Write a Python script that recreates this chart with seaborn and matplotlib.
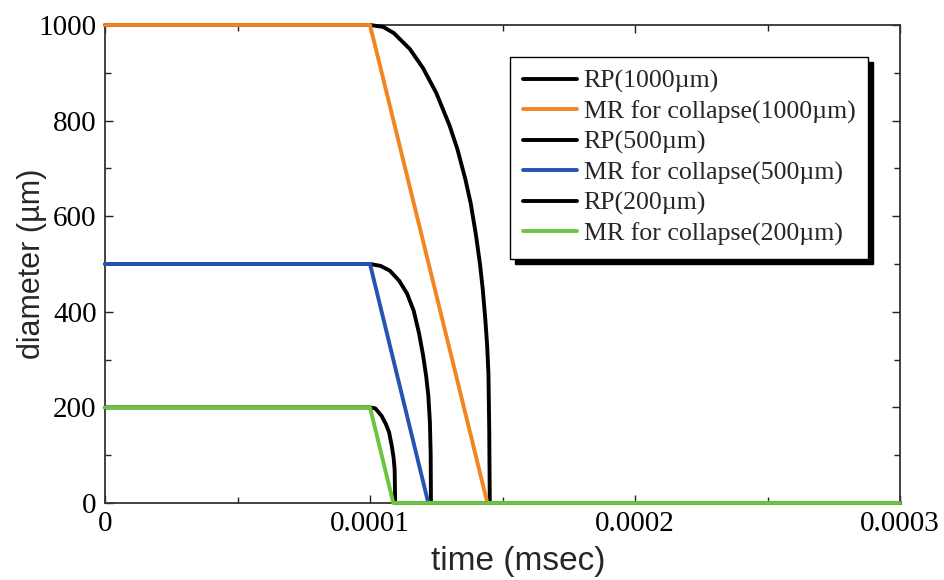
import matplotlib
matplotlib.use("Agg")
import matplotlib.pyplot as plt
from matplotlib.ticker import MultipleLocator
import seaborn as sns
import pandas as pd

# ---- data (time in msec, diameter in µm) ----
rp1000_t = [0.0, 0.0001000, 0.0001050, 0.0001090, 0.0001150, 0.0001200, 0.0001250,
            0.0001300, 0.0001330, 0.0001360, 0.0001380, 0.0001400, 0.0001415,
            0.0001425, 0.0001435, 0.0001442, 0.0001447, 0.0001450, 0.0001452, 0.0003]
rp1000_d = [1000, 1000, 996, 983, 950, 910, 858, 790, 740, 677, 627, 560, 500,
            450, 385, 330, 270, 150, 0, 0]

mr1000_t = [0.0, 0.000100, 0.0001443, 0.0003]
mr1000_d = [1000, 1000, 0, 0]

rp500_t = [0.0, 0.0001000, 0.0001040, 0.0001075, 0.0001110, 0.0001140, 0.0001165,
           0.0001185, 0.0001200, 0.0001212, 0.0001220, 0.0001226, 0.0001229, 0.0001230, 0.0003]
rp500_d = [500, 500, 496, 486, 465, 438, 402, 355, 310, 265, 225, 170, 100, 0, 0]

mr500_t = [0.0, 0.000100, 0.000122, 0.0003]
mr500_d = [500, 500, 0, 0]

rp200_t = [0.0, 0.0001000, 0.0001020, 0.0001044, 0.0001060, 0.0001072, 0.0001082,
           0.0001089, 0.0001093, 0.0001095, 0.0003]
rp200_d = [200, 200, 198, 182, 165, 148, 120, 95, 70, 0, 0]

mr200_t = [0.0, 0.000100, 0.0001088, 0.0003]
mr200_d = [200, 200, 0, 0]

series = [
    ("RP(1000µm)", rp1000_t, rp1000_d, "black"),
    ("MR for collapse(1000µm)", mr1000_t, mr1000_d, "#f28522"),
    ("RP(500µm)", rp500_t, rp500_d, "black"),
    ("MR for collapse(500µm)", mr500_t, mr500_d, "#2453b3"),
    ("RP(200µm)", rp200_t, rp200_d, "black"),
    ("MR for collapse(200µm)", mr200_t, mr200_d, "#6cc53f"),
]

x_ticks = [0, 0.0001, 0.0002, 0.0003]
x_ticklabels = ["0", "0.0001", "0.0002", "0.0003"]
y_ticks = [0, 200, 400, 600, 800, 1000]
y_ticklabels = ["0", "200", "400", "600", "800", "1000"]

sns.set_theme(style="ticks")
plt.rcParams["font.family"] = ["Liberation Serif", "DejaVu Serif"]

fig = plt.figure(figsize=(9.44, 5.8), dpi=100)
ax = fig.add_axes([105 / 944, 1 - 503 / 580, 795 / 944, 478 / 580])

for i, (label, t, d, c) in enumerate(series):
    df = pd.DataFrame({"t": t, "d": d})
    sns.lineplot(data=df, x="t", y="d", ax=ax, color=c, lw=2.8,
                 estimator=None, sort=False, label=label)
    ln = ax.get_lines()[-1]
    ln.set_clip_on(False)
    ln.set_zorder(3 + i * 0.1)

ax.set_xlim(0, 0.0003)
ax.set_ylim(0, 1000)
ax.set_xticks(x_ticks)
ax.set_xticklabels(x_ticklabels)
ax.set_yticks(y_ticks)
ax.set_yticklabels(y_ticklabels)
ax.xaxis.set_minor_locator(MultipleLocator(0.00005))
ax.yaxis.set_minor_locator(MultipleLocator(100))
ax.tick_params(which="both", direction="in", top=True, right=True,
               labelsize=21, colors="#222222", width=1.0)
ax.tick_params(which="major", length=6, pad=6)
ax.tick_params(which="minor", length=4)
for lab in ax.get_xticklabels() + ax.get_yticklabels():
    lab.set_color("black")
for sp in ax.spines.values():
    sp.set_color("#333333")
    sp.set_linewidth(1.3)
    sp.set_zorder(2.5)

ax.set_xlabel("time (msec)", family=["Liberation Sans", "DejaVu Sans"],
              fontsize=24, labelpad=6)
ax.xaxis.label.set_x(0.52)
ax.set_ylabel("diameter (µm)", family=["Liberation Sans", "DejaVu Sans"],
              fontsize=22, labelpad=-6)

leg = ax.legend(loc="upper right", bbox_to_anchor=(0.960, 0.933),
                borderaxespad=0, fontsize=18.6, frameon=True, fancybox=False,
                handlelength=2.1, handletextpad=0.25, labelspacing=0.27,
                borderpad=0.5,
                shadow={"ox": 3.5, "oy": -3.5, "color": "black", "alpha": 1})
leg.get_frame().set_edgecolor("black")
leg.get_frame().set_linewidth(1.0)
leg.get_frame().set_alpha(1)
leg.set_zorder(10)

fig.savefig("out.png", dpi=100)
